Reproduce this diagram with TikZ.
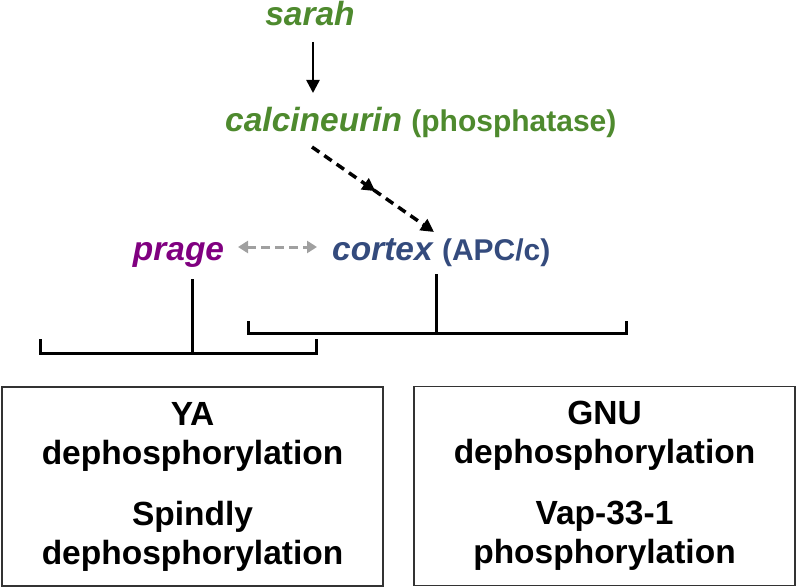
\documentclass[tikz,border=0pt]{standalone}
\usepackage{fontspec}
\setmainfont{Liberation Sans}
\usetikzlibrary{arrows.meta,decorations.markings}
\definecolor{gn}{RGB}{78,138,46}
\definecolor{pu}{RGB}{128,0,128}
\definecolor{bl}{RGB}{52,75,125}
\definecolor{gy}{RGB}{160,160,160}
\newcommand{\parenfont}{\fontsize{30}{36}\selectfont\upshape}
\begin{document}
\begin{tikzpicture}[x=1pt,y=-1pt,
  gene/.style={inner sep=0pt, anchor=base, font=\fontsize{33.5}{40}\selectfont\bfseries\itshape},
  boxst/.style={draw=black!80, line width=1.5pt, minimum width=381pt, minimum height=199pt,
    inner sep=0pt, align=center, font=\fontsize{33.5}{39}\selectfont\bfseries},
  solidarr/.style={line width=2.5pt, -{Triangle[length=13pt,width=13pt]}},
  dasharr/.style={line width=3.5pt, dash pattern=on 9pt off 6pt,
    -{Triangle[length=13pt,width=13pt]},
    postaction={decorate, decoration={markings, mark=at position 0.52 with {\arrow{Triangle[length=13pt,width=13pt]}}}}},
  grayarr/.style={gy, line width=3pt, dash pattern=on 9pt off 5pt,
    {Triangle[length=10pt,width=12pt]}-{Triangle[length=10pt,width=12pt]}},
  brk/.style={line width=3pt, line cap=rect}
]
\useasboundingbox (0,0) rectangle (797,588);

% text nodes
\node[gene, gn] (sarah) at (310,26) {sarah};
\node[gene, gn, anchor=base west] (calc) at (225,132) {calcineurin {\parenfont (phosphatase)}};
\node[gene, pu] (prage) at (178.5,260) {prage};
\node[gene, bl, anchor=base west] (cortex) at (332,260) {cortex {\parenfont (APC/c)}};

% boxes
\node[boxst] (lbox) at (192.5,486.5) {YA\\dephosphorylation\\[22pt]Spindly\\dephosphorylation};
\node[boxst] (rbox) at (604.5,486) {GNU\\dephosphorylation\\[22pt]Vap-33-1\\phosphorylation};

% arrows
\coordinate (s1) at (313,42);
\coordinate (s2) at (313,93);
\draw[solidarr] (s1) -- (s2);

\coordinate (d1) at (312,147);
\coordinate (d2) at (434,232);
\draw[dasharr] (d1) -- (d2);

\coordinate (g1) at (238,247);
\coordinate (g2) at (317,247);
\draw[grayarr] (g1) -- (g2);

% prage stem and left bracket
\coordinate (pst) at (192,280);
\coordinate (lbl) at (40,353);
\coordinate (lbr) at (316,353);
\draw[brk] (pst) -- (pst |- lbl);
\draw[brk] ([yshift=13pt]lbl) -- (lbl) -- (lbr) -- ([yshift=13pt]lbr);

% cortex stem and right bracket
\coordinate (cst) at (436,275);
\coordinate (rbl) at (248,333);
\coordinate (rbr) at (626,333);
\draw[brk] (cst) -- (cst |- rbl);
\draw[brk] ([yshift=11pt]rbl) -- (rbl) -- (rbr) -- ([yshift=11pt]rbr);
\end{tikzpicture}
\end{document}
